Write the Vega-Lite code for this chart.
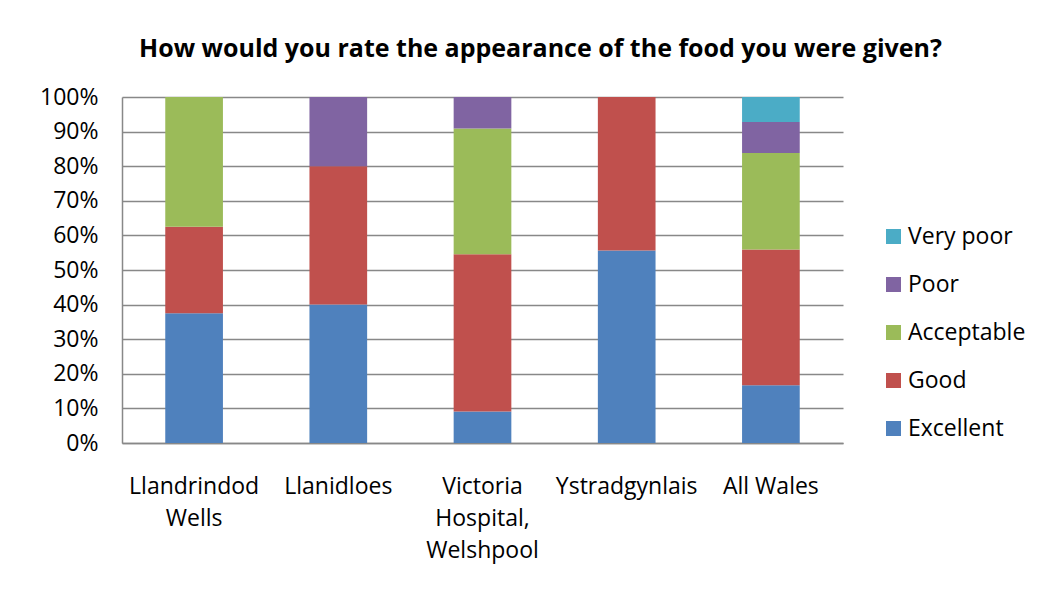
{
  "$schema": "https://vega.github.io/schema/vega-lite/v6.json",
  "width": 721,
  "height": 346,
  "autosize": {"type": "none"},
  "padding": {"left": 122, "top": 97, "right": 200, "bottom": 152},
  "background": "white",
  "title": {
    "text": "How would you rate the appearance of the food you were given?",
    "font": "Open Sans",
    "fontSize": 25,
    "fontWeight": "bold",
    "color": "black",
    "anchor": "middle",
    "dx": 58,
    "offset": 24
  },
  "data": {
    "values": [
      {"site": "Llandrindod Wells", "rating": "Excellent", "pct": 37.5},
      {"site": "Llandrindod Wells", "rating": "Good", "pct": 25.0},
      {"site": "Llandrindod Wells", "rating": "Acceptable", "pct": 37.5},
      {"site": "Llandrindod Wells", "rating": "Poor", "pct": 0},
      {"site": "Llandrindod Wells", "rating": "Very poor", "pct": 0},
      {"site": "Llanidloes", "rating": "Excellent", "pct": 40.0},
      {"site": "Llanidloes", "rating": "Good", "pct": 40.0},
      {"site": "Llanidloes", "rating": "Acceptable", "pct": 0},
      {"site": "Llanidloes", "rating": "Poor", "pct": 20.0},
      {"site": "Llanidloes", "rating": "Very poor", "pct": 0},
      {"site": "Victoria Hospital, Welshpool", "rating": "Excellent", "pct": 9.09},
      {"site": "Victoria Hospital, Welshpool", "rating": "Good", "pct": 45.45},
      {"site": "Victoria Hospital, Welshpool", "rating": "Acceptable", "pct": 36.36},
      {"site": "Victoria Hospital, Welshpool", "rating": "Poor", "pct": 9.09},
      {"site": "Victoria Hospital, Welshpool", "rating": "Very poor", "pct": 0},
      {"site": "Ystradgynlais", "rating": "Excellent", "pct": 55.6},
      {"site": "Ystradgynlais", "rating": "Good", "pct": 44.4},
      {"site": "Ystradgynlais", "rating": "Acceptable", "pct": 0},
      {"site": "Ystradgynlais", "rating": "Poor", "pct": 0},
      {"site": "Ystradgynlais", "rating": "Very poor", "pct": 0},
      {"site": "All Wales", "rating": "Excellent", "pct": 16.7},
      {"site": "All Wales", "rating": "Good", "pct": 39.2},
      {"site": "All Wales", "rating": "Acceptable", "pct": 27.9},
      {"site": "All Wales", "rating": "Poor", "pct": 9.0},
      {"site": "All Wales", "rating": "Very poor", "pct": 7.2}
    ]
  },
  "transform": [
    {"calculate": "indexof(['Excellent', 'Good', 'Acceptable', 'Poor', 'Very poor'], datum.rating)", "as": "stackOrder"}
  ],
  "mark": {"type": "bar"},
  "encoding": {
    "x": {
      "field": "site",
      "type": "nominal",
      "sort": ["Llandrindod Wells", "Llanidloes", "Victoria Hospital, Welshpool", "Ystradgynlais", "All Wales"],
      "scale": {"paddingInner": 0.6, "paddingOuter": 0.3},
      "axis": {
        "title": null,
        "labelAngle": 0,
        "labelFont": "Open Sans",
        "labelFontSize": 23,
        "labelColor": "black",
        "labelPadding": 43,
        "labelLineHeight": 32,
        "labelBaseline": "middle",
        "ticks": false,
        "domainColor": "#888888",
        "domainWidth": 1.5,
        "labelExpr": "datum.value == 'Llandrindod Wells' ? ['Llandrindod', 'Wells'] : datum.value == 'Victoria Hospital, Welshpool' ? ['Victoria', 'Hospital,', 'Welshpool'] : datum.value"
      }
    },
    "y": {
      "field": "pct",
      "type": "quantitative",
      "stack": "zero",
      "scale": {"domain": [0, 100], "nice": false},
      "axis": {
        "title": null,
        "values": [0, 10, 20, 30, 40, 50, 60, 70, 80, 90, 100],
        "labelExpr": "datum.value + '%'",
        "labelFont": "Open Sans",
        "labelFontSize": 23,
        "labelColor": "black",
        "labelPadding": 24,
        "ticks": false,
        "grid": true,
        "gridColor": "#888888",
        "gridWidth": 1.5,
        "domainColor": "#888888",
        "domainWidth": 1.5
      }
    },
    "color": {
      "field": "rating",
      "type": "nominal",
      "scale": {
        "domain": ["Excellent", "Good", "Acceptable", "Poor", "Very poor"],
        "range": ["#4F81BD", "#C0504D", "#9BBB59", "#8064A2", "#4BACC6"]
      },
      "legend": {
        "title": null,
        "orient": "none",
        "legendX": 760,
        "legendY": 128,
        "values": ["Very poor", "Poor", "Acceptable", "Good", "Excellent"],
        "symbolType": "square",
        "symbolSize": 225,
        "symbolStrokeWidth": 0,
        "labelFont": "Open Sans",
        "labelFontSize": 23,
        "labelColor": "black",
        "labelOffset": 3,
        "rowPadding": 24
      }
    },
    "order": {"field": "stackOrder", "type": "quantitative", "sort": "ascending"}
  },
  "config": {"view": {"stroke": null}}
}
